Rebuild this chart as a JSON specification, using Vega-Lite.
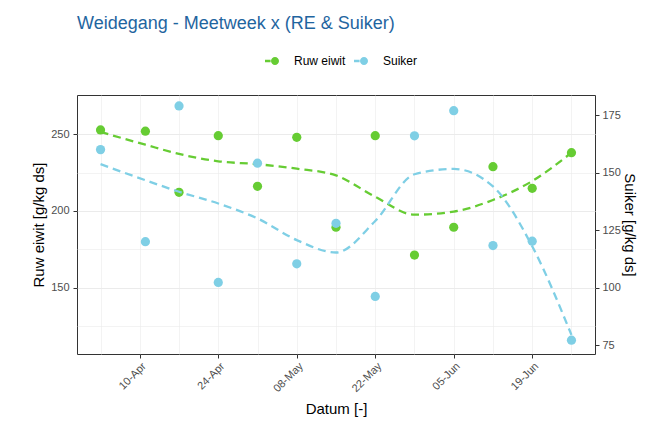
{
  "$schema": "https://vega.github.io/schema/vega-lite/v6.json",
  "autosize": {"type": "none"},
  "padding": {"left": 77, "top": 95, "right": 75, "bottom": 85},
  "width": 518,
  "height": 259,
  "background": "white",
  "title": {
    "text": "Weidegang - Meetweek x (RE & Suiker)",
    "anchor": "start",
    "frame": "group",
    "font": "Liberation Sans",
    "fontSize": 18,
    "fontWeight": "normal",
    "color": "#1F65A0",
    "offset": 20
  },
  "config": {
    "view": {"stroke": "#333333", "strokeWidth": 1},
    "axis": {
      "domain": false,
      "gridColor": "#EBEBEB",
      "tickColor": "#333333",
      "tickSize": 4,
      "labelColor": "#4D4D4D",
      "labelFont": "Liberation Sans",
      "labelFontSize": 11,
      "titleFont": "Liberation Sans",
      "titleFontSize": 15,
      "titleFontWeight": "normal",
      "titleColor": "#000000"
    },
    "legend": {
      "labelFont": "Liberation Sans",
      "labelFontSize": 12,
      "labelColor": "#000000"
    }
  },
  "data": {
    "values": [
      {"datum": "2017-04-03", "re": 252.8, "suiker": 160.0, "re_fit": 251.5, "suiker_fit": 153.7},
      {"datum": "2017-04-11", "re": 252.0, "suiker": 120.0, "re_fit": 243.2, "suiker_fit": 146.7},
      {"datum": "2017-04-17", "re": 212.2, "suiker": 179.0, "re_fit": 237.2, "suiker_fit": 141.7},
      {"datum": "2017-04-24", "re": 249.1, "suiker": 102.3, "re_fit": 232.4, "suiker_fit": 136.6},
      {"datum": "2017-05-01", "re": 216.1, "suiker": 154.1, "re_fit": 230.5, "suiker_fit": 130.1},
      {"datum": "2017-05-08", "re": 248.0, "suiker": 110.4, "re_fit": 227.6, "suiker_fit": 120.7},
      {"datum": "2017-05-15", "re": 189.4, "suiker": 128.0, "re_fit": 223.2, "suiker_fit": 115.3},
      {"datum": "2017-05-22", "re": 249.1, "suiker": 96.2, "re_fit": 209.3, "suiker_fit": 129.0},
      {"datum": "2017-05-29", "re": 171.3, "suiker": 166.0, "re_fit": 197.6, "suiker_fit": 149.3},
      {"datum": "2017-06-05", "re": 189.4, "suiker": 176.9, "re_fit": 199.6, "suiker_fit": 151.6},
      {"datum": "2017-06-12", "re": 228.9, "suiker": 118.3, "re_fit": 207.2, "suiker_fit": 144.0},
      {"datum": "2017-06-19", "re": 214.8, "suiker": 120.2, "re_fit": 219.5, "suiker_fit": 118.0},
      {"datum": "2017-06-26", "re": 238.0, "suiker": 77.2, "re_fit": 238.0, "suiker_fit": 79.5}
    ]
  },
  "encoding": {
    "x": {
      "field": "datum",
      "type": "temporal",
      "title": "Datum [-]",
      "scale": {
        "type": "utc",
        "domain": [
          {"year": 2017, "month": 3, "date": 29, "hours": 19, "minutes": 12, "utc": true},
          {"year": 2017, "month": 6, "date": 30, "hours": 4, "minutes": 48, "utc": true}
        ]
      },
      "axis": {
        "values": [
          {"year": 2017, "month": 4, "date": 3, "utc": true},
          {"year": 2017, "month": 4, "date": 10, "utc": true},
          {"year": 2017, "month": 4, "date": 17, "utc": true},
          {"year": 2017, "month": 4, "date": 24, "utc": true},
          {"year": 2017, "month": 5, "date": 1, "utc": true},
          {"year": 2017, "month": 5, "date": 8, "utc": true},
          {"year": 2017, "month": 5, "date": 15, "utc": true},
          {"year": 2017, "month": 5, "date": 22, "utc": true},
          {"year": 2017, "month": 5, "date": 29, "utc": true},
          {"year": 2017, "month": 6, "date": 5, "utc": true},
          {"year": 2017, "month": 6, "date": 12, "utc": true},
          {"year": 2017, "month": 6, "date": 19, "utc": true},
          {"year": 2017, "month": 6, "date": 26, "utc": true}
        ],
        "format": "%d-%b",
        "labelExpr": "indexof(['10-Apr','24-Apr','08-May','22-May','05-Jun','19-Jun'], datum.label) >= 0 ? datum.label : ''",
        "tickOpacity": {"condition": {"test": "indexof(['10-Apr','24-Apr','08-May','22-May','05-Jun','19-Jun'], datum.label) < 0", "value": 0}, "value": 1},
        "gridWidth": {"condition": {"test": "indexof(['10-Apr','24-Apr','08-May','22-May','05-Jun','19-Jun'], datum.label) < 0", "value": 0.6}, "value": 1.1},
        "labelAngle": -45,
        "labelAlign": "right",
        "labelBaseline": "top",
        "labelPadding": 2,
        "labelOverlap": false,
        "titlePadding": 8
      }
    }
  },
  "layer": [
    {
      "layer": [
        {
          "mark": {"type": "line", "color": "#66CC33", "strokeWidth": 2.3, "strokeDash": [8, 5], "interpolate": "monotone"},
          "encoding": {
            "y": {
              "field": "re_fit",
              "type": "quantitative",
              "title": "Ruw eiwit [g/kg ds]",
              "scale": {"domain": [106.8, 275.6], "nice": false, "zero": false},
              "axis": {
                "orient": "left",
                "values": [125, 150, 175, 200, 225, 250],
                "labelExpr": "datum.value % 50 == 0 ? datum.label : ''",
                "tickOpacity": {"condition": {"test": "datum.value % 50 != 0", "value": 0}, "value": 1},
                "gridWidth": {"condition": {"test": "datum.value % 50 != 0", "value": 0.6}, "value": 1.1},
                "labelPadding": 4,
                "titlePadding": 4
              }
            }
          }
        },
        {
          "mark": {"type": "point", "filled": true, "size": 85, "opacity": 1},
          "encoding": {
            "y": {
              "field": "re",
              "type": "quantitative",
              "title": "Ruw eiwit [g/kg ds]",
              "scale": {"domain": [106.8, 275.6], "nice": false, "zero": false}
            },
            "color": {
              "datum": "Ruw eiwit",
              "scale": {"domain": ["Ruw eiwit", "Suiker"], "range": ["#66CC33", "#7FCFE5"]},
              "legend": {
                "title": null,
                "orient": "none",
                "legendX": 188,
                "legendY": -42,
                "direction": "horizontal",
                "symbolType": "M-1,-0.16L-0.3,-0.16L-0.3,0.16L-1,0.16Z M-0.25,0 A0.5,0.5 0 1,1 0.75,0 A0.5,0.5 0 1,1 -0.25,0 Z",
                "symbolSize": 256,
                "symbolStrokeWidth": 0,
                "symbolOpacity": 1,
                "labelOffset": 13,
                "columnPadding": 8,
                "padding": 0,
                "offset": 0
              }
            }
          }
        }
      ]
    },
    {
      "layer": [
        {
          "mark": {"type": "line", "color": "#7FCFE5", "strokeWidth": 2.3, "strokeDash": [8, 5], "interpolate": "monotone"},
          "encoding": {
            "y": {
              "field": "suiker_fit",
              "type": "quantitative",
              "title": "Suiker [g/kg ds]",
              "scale": {"domain": [71.2, 183.733], "nice": false, "zero": false},
              "axis": {
                "orient": "right",
                "values": [75, 100, 125, 150, 175],
                "grid": false,
                "labelPadding": 3,
                "titlePadding": 1
              }
            }
          }
        },
        {
          "mark": {"type": "point", "filled": true, "size": 85, "opacity": 1},
          "encoding": {
            "y": {
              "field": "suiker",
              "type": "quantitative",
              "title": "Suiker [g/kg ds]",
              "scale": {"domain": [71.2, 183.733], "nice": false, "zero": false}
            },
            "color": {"datum": "Suiker"}
          }
        }
      ]
    }
  ],
  "resolve": {"scale": {"y": "independent"}}
}
